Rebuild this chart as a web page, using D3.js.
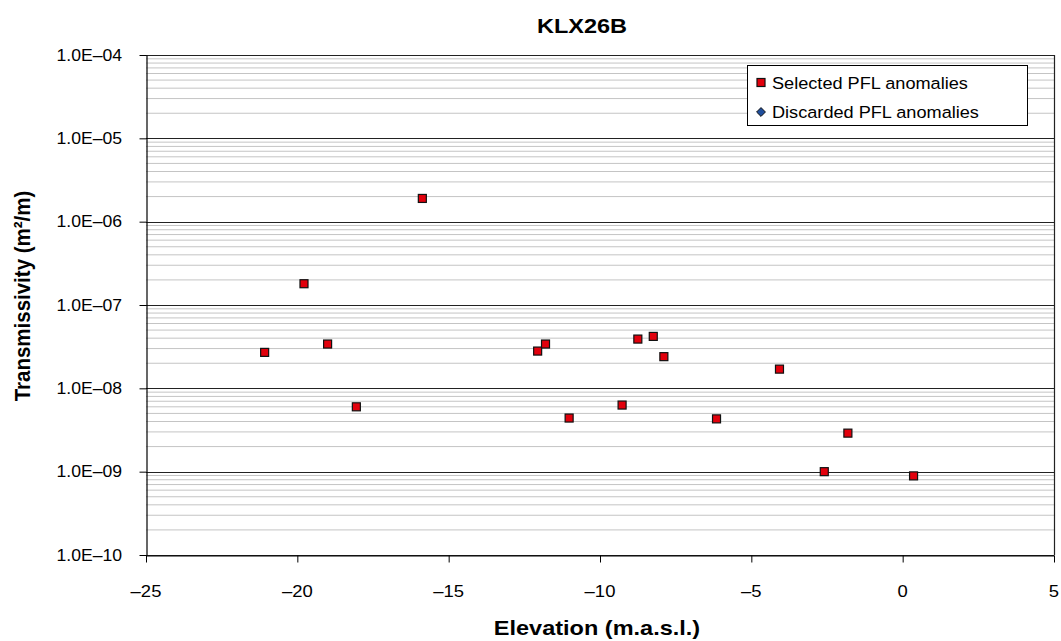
<!DOCTYPE html>
<html>
<head>
<meta charset="utf-8">
<script src="https://cdn.jsdelivr.net/npm/d3@7"></script>
<style>
  html, body { margin: 0; padding: 0; background: #fff; }
  svg { display: block; font-family: "Liberation Sans", Arial, sans-serif; }
</style>
</head>
<body>
<svg id="chart" width="1061" height="641"></svg>
<script>
// Selected PFL anomalies, borehole KLX26B
const elevation = [-21.08, -19.78, -19.0, -18.05, -15.87, -12.06, -11.8, -11.02, -9.27,
                   -8.75, -8.24, -7.89, -6.15, -4.07, -2.59, -1.81, 0.36];
const transmissivity = [2.7e-8, 1.8e-7, 3.4e-8, 6.0e-9, 1.9e-6, 2.8e-8, 3.4e-8, 4.4e-9, 6.3e-9,
                        3.9e-8, 4.2e-8, 2.4e-8, 4.3e-9, 1.7e-8, 1.0e-9, 2.9e-9, 8.9e-10];
// Discarded PFL anomalies (none in this section)
const discardedElevation = [];
const discardedTransmissivity = [];

const xTicks = [-25, -20, -15, -10, -5, 0, 5];
const yTicks = [1e-10, 1e-9, 1e-8, 1e-7, 1e-6, 1e-5, 1e-4];
const seriesNames = ["Selected PFL anomalies", "Discarded PFL anomalies"];
const titleText = "KLX26B";
const xTitle = "Elevation (m.a.s.l.)";
const yTitle = "Transmissivity (m\u00B2/m)";

const svg = d3.select("#chart");
const plotLeft = 146, plotRight = 1054, plotTop = 55, plotBottom = 555;
const sx = 1.12; // horizontal text stretch

const x = d3.scaleLinear().domain([-25, 5]).range([plotLeft, plotRight]);
const y = d3.scaleLog().domain([1e-10, 1e-4]).range([plotBottom, plotTop]);

const minus = s => s.replace("-", "\u2013");
const fmtY = v => {
  const e = Math.round(Math.log10(v));
  const a = Math.abs(e);
  return "1.0E" + (e < 0 ? "\u2013" : "+") + (a < 10 ? "0" : "") + a;
};

// helper for horizontally stretched text
function label(g, px, py, txt, opts) {
  const t = g.append("text")
    .attr("transform", `translate(${px},${py}) scale(${opts.sx || sx},1)` + (opts.rot ? ` rotate(${opts.rot})` : ""))
    .attr("text-anchor", opts.anchor || "start")
    .attr("font-size", opts.size)
    .attr("font-weight", opts.bold ? "bold" : "normal")
    .attr("fill", "#000")
    .text(txt);
  if (opts.dy) t.attr("dy", opts.dy);
  return t;
}

// minor gridlines
const minors = [];
for (let e = -10; e < -4; e++) for (let m = 2; m <= 9; m++) minors.push(m * Math.pow(10, e));
svg.append("g").selectAll("line").data(minors).join("line")
  .attr("x1", plotLeft).attr("x2", plotRight)
  .attr("y1", d => y(d)).attr("y2", d => y(d))
  .attr("stroke", "#c4c4c4").attr("stroke-width", 1);

// major gridlines
svg.append("g").selectAll("line").data(yTicks).join("line")
  .attr("x1", plotLeft).attr("x2", plotRight)
  .attr("y1", d => Math.round(y(d)) + 0.5).attr("y2", d => Math.round(y(d)) + 0.5)
  .attr("stroke", "#222").attr("stroke-width", 1);

// plot frame (right side)
svg.append("line").attr("x1", plotRight + 0.5).attr("x2", plotRight + 0.5).attr("y1", plotTop).attr("y2", plotBottom)
  .attr("stroke", "#222").attr("stroke-width", 1.2);

// y axis
const yAxis = svg.append("g").attr("transform", `translate(${plotLeft + 0.5},0)`)
  .call(d3.axisLeft(y).tickValues(yTicks).tickFormat("").tickSize(7).tickSizeOuter(0));
yAxis.select(".domain").attr("stroke", "#000").attr("stroke-width", 1.2);
yAxis.selectAll(".tick line").attr("stroke", "#000");
yTicks.forEach(v => label(svg, 122, y(v), fmtY(v), { size: 16, anchor: "end", dy: "0.35em", sx: 1.1 }));

// x axis
const xAxis = svg.append("g").attr("transform", `translate(0,${plotBottom + 0.5})`)
  .call(d3.axisBottom(x).tickValues(xTicks).tickFormat("").tickSize(7).tickSizeOuter(0));
xAxis.select(".domain").attr("stroke", "#000").attr("stroke-width", 1.2);
xAxis.selectAll(".tick line").attr("stroke", "#000");
xTicks.forEach(v => label(svg, x(v), 597, minus(String(v)), { size: 16.5, anchor: "middle" }));

// titles
label(svg, 582, 33, titleText, { size: 21, anchor: "middle", bold: true });
label(svg, 597, 635, xTitle, { size: 21, anchor: "middle", bold: true });
label(svg, 30, 296, yTitle, { size: 20.5, anchor: "middle", bold: true, rot: -90 });

// selected anomalies: red squares
const pts = elevation.map((e, i) => ({ e, t: transmissivity[i] }));
const s = 8;
svg.append("g").selectAll("rect").data(pts).join("rect")
  .attr("x", d => x(d.e) - s / 2).attr("y", d => y(d.t) - s / 2)
  .attr("width", s).attr("height", s)
  .attr("fill", "#e2000c").attr("stroke", "#111").attr("stroke-width", 1.2);

// discarded anomalies: blue diamonds
const dpts = discardedElevation.map((e, i) => ({ e, t: discardedTransmissivity[i] }));
svg.append("g").selectAll("path").data(dpts).join("path")
  .attr("d", d3.symbol(d3.symbolDiamond2, 60))
  .attr("transform", d => `translate(${x(d.e)},${y(d.t)})`)
  .attr("fill", "#1f4e9c").attr("stroke", "#111");

// legend
const lg = svg.append("g");
lg.append("rect").attr("x", 747.5).attr("y", 65.5).attr("width", 280).attr("height", 60)
  .attr("fill", "#fff").attr("stroke", "#000").attr("stroke-width", 1);
lg.append("rect").attr("x", 761 - 4).attr("y", 82.5 - 4).attr("width", 8).attr("height", 8)
  .attr("fill", "#e2000c").attr("stroke", "#111").attr("stroke-width", 1.2);
lg.append("path").attr("d", d3.symbol(d3.symbolDiamond2, 50))
  .attr("transform", "translate(761,112)")
  .attr("fill", "#1f4e9c").attr("stroke", "#111").attr("stroke-width", 1);
label(lg, 772, 88.5, seriesNames[0], { size: 16.5, sx: 1.1 });
label(lg, 772, 118, seriesNames[1], { size: 16.5, sx: 1.1 });
</script>
</body>
</html>
